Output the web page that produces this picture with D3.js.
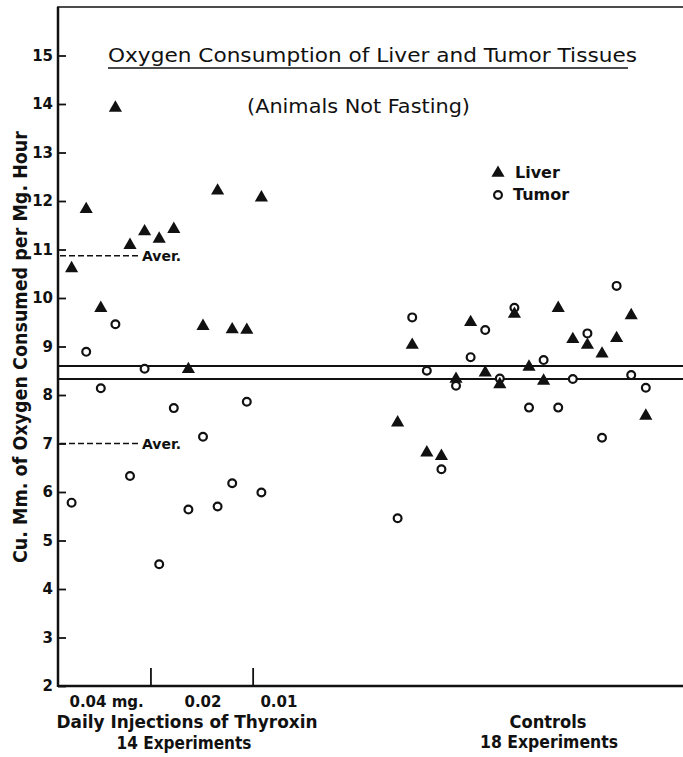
<!DOCTYPE html>
<html>
<head>
<meta charset="utf-8">
<script src="https://cdn.jsdelivr.net/npm/d3@7"></script>
<style>
  body { margin: 0; background: #fff; }
  text { font-family: "DejaVu Sans", sans-serif; fill: #111; font-weight: bold; }
</style>
</head>
<body>
<div id="chart"></div>
<script>
var thyroxinLiver = [10.61, 11.83, 9.79, 13.92, 11.09, 11.37, 11.22, 11.42, 8.53, 9.42, 12.21, 9.35, 9.34, 12.07];
var thyroxinTumor = [5.78, 8.89, 8.14, 9.46, 6.33, 8.54, 4.51, 7.73, 5.64, 7.14, 5.70, 6.18, 7.86, 5.99];
var controlLiver = [7.43, 9.03, 6.81, 6.74, 8.33, 9.50, 8.46, 8.22, 9.67, 8.58, 8.29, 9.79, 9.15, 9.03, 8.85, 9.17, 9.64, 7.57];
var controlTumor = [5.46, 9.60, 8.50, 6.47, 8.19, 8.78, 9.34, 8.34, 9.80, 7.74, 8.72, 7.74, 8.33, 9.27, 7.12, 10.25, 8.41, 8.15];

// averages drawn as lines
var controlAverages = [8.6, 8.33];
var thyroxinAverages = [10.87, 7.0];

var yTicks = [2, 3, 4, 5, 6, 7, 8, 9, 10, 11, 12, 13, 14, 15];
var doseLabels = ["0.04 mg.", "0.02", "0.01"];
var doseBreaks = [6.4, 13.4];

// dimensions
var width = 683, height = 757;
var axisX = 58, axisY = 686, topY = 7;
var controlStart = 23.33; // slot of first control experiment

var svg = d3.select("#chart").append("svg")
  .attr("width", width).attr("height", height);

svg.append("rect").attr("width", width).attr("height", height).attr("fill", "#fff");

var y = d3.scaleLinear().domain([2, 15]).range([axisY, axisY - 13 * 48.5]);
var x = d3.scaleLinear().domain([0, 43]).range([57, 57 + 43 * 14.6]);

// frame: left axis, top line, bottom axis
svg.append("line").attr("x1", axisX).attr("x2", axisX).attr("y1", topY).attr("y2", axisY + 1)
  .attr("stroke", "#111").attr("stroke-width", 2.5);
svg.append("line").attr("x1", axisX - 1).attr("x2", width).attr("y1", topY).attr("y2", topY)
  .attr("stroke", "#111").attr("stroke-width", 1.5);
svg.append("line").attr("x1", axisX).attr("x2", width).attr("y1", axisY).attr("y2", axisY)
  .attr("stroke", "#111").attr("stroke-width", 2.5);

// y axis, ticks point inward
var yAxis = svg.append("g")
  .attr("transform", `translate(${axisX}, 0)`)
  .call(d3.axisLeft(y).tickValues(yTicks).tickSize(-8).tickPadding(5).tickFormat(d3.format("d")));
yAxis.select(".domain").remove();
yAxis.selectAll(".tick line").attr("stroke", "#111").attr("stroke-width", 1.8);
yAxis.selectAll(".tick text")
  .attr("font-size", "15px").attr("font-weight", "bold")
  .attr("font-family", "DejaVu Sans").attr("fill", "#111");

// x axis, only the dose boundary ticks
var xAxis = svg.append("g")
  .attr("transform", `translate(0, ${axisY})`)
  .call(d3.axisBottom(x).tickValues(doseBreaks).tickSize(-18).tickFormat(""));
xAxis.select(".domain").remove();
xAxis.selectAll(".tick line").attr("stroke", "#111").attr("stroke-width", 1.8);

// dose labels under the thyroxin group
var doseCenters = [3.4, 10.0, 15.2];
svg.selectAll(".dose").data(doseLabels).enter().append("text")
  .attr("x", function(d, i) { return x(doseCenters[i]); })
  .attr("y", 707)
  .attr("text-anchor", "middle")
  .attr("font-size", "15px")
  .text(function(d) { return d; });

// average lines
svg.selectAll(".ctrlAvg").data(controlAverages).enter().append("line")
  .attr("x1", axisX).attr("x2", width)
  .attr("y1", function(d) { return y(d); }).attr("y2", function(d) { return y(d); })
  .attr("stroke", "#111").attr("stroke-width", 2);

svg.selectAll(".thyAvg").data(thyroxinAverages).enter().append("line")
  .attr("x1", axisX + 2).attr("x2", 140)
  .attr("y1", function(d) { return y(d); }).attr("y2", function(d) { return y(d); })
  .attr("stroke", "#111").attr("stroke-width", 1.6).attr("stroke-dasharray", "6,3");

svg.selectAll(".averText").data(thyroxinAverages).enter().append("text")
  .attr("x", 142).attr("y", function(d) { return y(d) + 5; })
  .attr("font-size", "14px")
  .text("Aver.");

// markers
var tri = d3.symbol().type(d3.symbolTriangle).size(75);

function drawGroup(liver, tumor, start) {
  svg.append("g").selectAll("circle").data(tumor).enter().append("circle")
    .attr("cx", function(d, i) { return x(start + i); })
    .attr("cy", function(d) { return y(d); })
    .attr("r", 3.9)
    .attr("fill", "#fff").attr("stroke", "#111").attr("stroke-width", 2.2);

  svg.append("g").selectAll("path").data(liver).enter().append("path")
    .attr("d", tri)
    .attr("transform", function(d, i) { return `translate(${x(start + i)}, ${y(d)})`; })
    .attr("fill", "#111");
}

drawGroup(thyroxinLiver, thyroxinTumor, 1);
drawGroup(controlLiver, controlTumor, controlStart);

// titles (lighter strokes than the rest)
svg.append("text")
  .attr("x", 108).attr("y", 62)
  .attr("font-size", "19px").style("font-weight", "normal")
  .attr("textLength", 529).attr("lengthAdjust", "spacingAndGlyphs")
  .text("Oxygen Consumption of Liver and Tumor Tissues");
svg.append("line").attr("x1", 108).attr("x2", 628).attr("y1", 68).attr("y2", 68)
  .attr("stroke", "#111").attr("stroke-width", 1.5);

svg.append("text")
  .attr("x", 247).attr("y", 113)
  .attr("font-size", "19px").style("font-weight", "normal")
  .attr("textLength", 223).attr("lengthAdjust", "spacingAndGlyphs")
  .text("(Animals Not Fasting)");

svg.append("text")
  .attr("transform", "translate(27, 347) rotate(-90)")
  .attr("text-anchor", "middle")
  .attr("font-size", "19px")
  .attr("textLength", 432).attr("lengthAdjust", "spacingAndGlyphs")
  .text("Cu. Mm. of Oxygen Consumed per Mg. Hour");

// legend
svg.append("path").attr("d", tri).attr("transform", "translate(498, 173)").attr("fill", "#111");
svg.append("text").attr("x", 515).attr("y", 178).attr("font-size", "16px").text("Liver");
svg.append("circle").attr("cx", 498).attr("cy", 195).attr("r", 3.9)
  .attr("fill", "#fff").attr("stroke", "#111").attr("stroke-width", 2.2);
svg.append("text").attr("x", 513).attr("y", 200).attr("font-size", "16px").text("Tumor");

// group labels
svg.append("text").attr("x", 187).attr("y", 728).attr("text-anchor", "middle")
  .attr("font-size", "17px").attr("textLength", 261).attr("lengthAdjust", "spacingAndGlyphs")
  .text("Daily Injections of Thyroxin");
svg.append("text").attr("x", 184).attr("y", 749).attr("text-anchor", "middle")
  .attr("font-size", "17px").attr("textLength", 135).attr("lengthAdjust", "spacingAndGlyphs")
  .text("14 Experiments");
svg.append("text").attr("x", 548).attr("y", 728).attr("text-anchor", "middle")
  .attr("font-size", "17px").attr("textLength", 77).attr("lengthAdjust", "spacingAndGlyphs")
  .text("Controls");
svg.append("text").attr("x", 549).attr("y", 748).attr("text-anchor", "middle")
  .attr("font-size", "17px").attr("textLength", 138).attr("lengthAdjust", "spacingAndGlyphs")
  .text("18 Experiments");
</script>
</body>
</html>
